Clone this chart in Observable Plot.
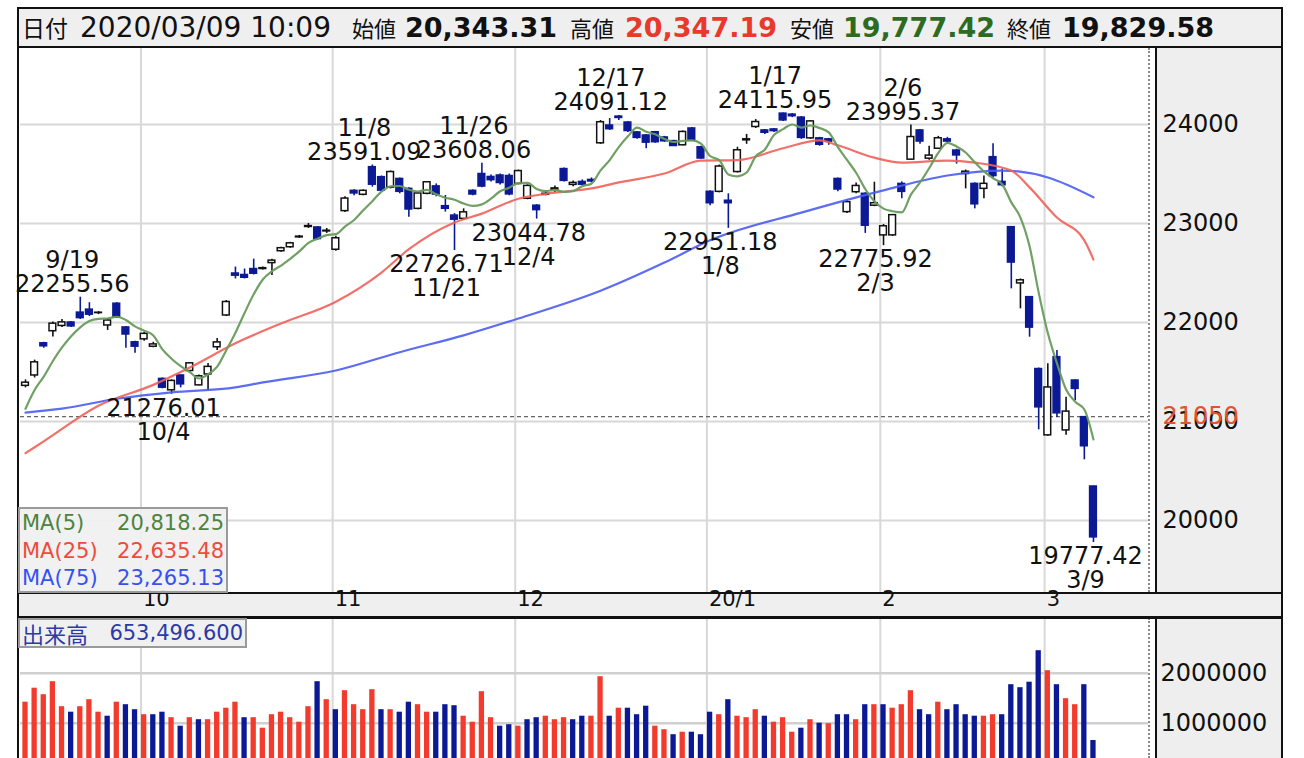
<!DOCTYPE html>
<html><head><meta charset="utf-8">
<script src="https://cdn.jsdelivr.net/npm/d3@7"></script>
<script src="https://cdn.jsdelivr.net/npm/@observablehq/plot@0.6"></script>
<style>
body{margin:0;background:#fff;font-family:"DejaVu Sans",sans-serif;}
#wrap{position:relative;width:1304px;height:758px;overflow:hidden;}
.abs{position:absolute;}
.cjk{font-family:"Noto Sans CJK JP",sans-serif;}
.hd{position:absolute;top:8px;height:39px;line-height:39px;white-space:nowrap;color:#111;}
.num{font-family:"DejaVu Sans",sans-serif;font-size:27px;font-weight:bold;}
.row{position:absolute;left:2px;right:2px;height:22px;line-height:22px;font-size:21px;}
.row .l{position:absolute;left:0;}
.row .r{position:absolute;right:0;}
</style></head>
<body><div id="wrap">
<div class="abs" style="left:18px;top:8px;width:1264px;height:39px;background:#efefef"></div>
<div class="abs" style="left:1157px;top:48px;width:124px;height:544px;background:#eeeeee"></div>
<div class="abs" style="left:19px;top:592px;width:1262px;height:26px;background:#efefef"></div>
<div class="abs" style="left:1157px;top:618px;width:124px;height:140px;background:#eeeeee"></div>
<div id="price" class="abs" style="left:18px;top:48px"></div>
<div id="vol" class="abs" style="left:18px;top:618px"></div>
<div class="abs" style="left:1148px;top:48px;height:544px;border-left:2px dotted #888"></div>
<div class="abs" style="left:1148px;top:618px;height:140px;border-left:2px dotted #888"></div>
<div class="abs" style="left:1155px;top:47px;width:2px;height:545px;background:#111"></div>
<div class="abs" style="left:1155px;top:618px;width:2px;height:140px;background:#111"></div>
<div class="abs" style="left:18px;top:7px;width:1264px;height:2px;background:#111"></div>
<div class="abs" style="left:18px;top:46px;width:1264px;height:2px;background:#111"></div>
<div class="abs" style="left:18px;top:592px;width:1264px;height:1.5px;background:#111"></div>
<div class="abs" style="left:18px;top:616px;width:1264px;height:2.5px;background:#111"></div>
<div class="abs" style="left:17px;top:7px;width:2px;height:751px;background:#111"></div>
<div class="abs" style="left:1281px;top:7px;width:2px;height:751px;background:#111"></div>
<div id="header"></div>
<div id="legend" class="abs" style="left:18px;top:507px;width:206px;height:82px;border:2px solid #9a9a9a;background:rgba(240,240,240,0.92)"></div>
<div id="vlabel" class="abs" style="left:18px;top:618px;width:225px;height:26px;border:2px solid #9a9a9a;background:#f0f0f0;color:#2b3aa8;line-height:26px;white-space:nowrap"></div>
</div>
<script>
// ---------- data ----------
const headerTime = "2020/03/09 10:09";
const dates = ["9/10","9/11","9/12","9/13","9/17","9/18","9/19","9/20","9/24","9/25","9/26","9/27","9/30",
"10/1","10/2","10/3","10/4","10/7","10/8","10/9","10/10","10/11","10/15","10/16","10/17","10/18","10/21","10/23","10/24","10/25","10/28","10/29","10/30","10/31",
"11/1","11/5","11/6","11/7","11/8","11/11","11/12","11/13","11/14","11/15","11/18","11/19","11/20","11/21","11/22","11/25","11/26","11/27","11/28","11/29",
"12/2","12/3","12/4","12/5","12/6","12/9","12/10","12/11","12/12","12/13","12/16","12/17","12/18","12/19","12/20","12/23","12/24","12/25","12/26","12/27","12/30",
"1/6","1/7","1/8","1/9","1/10","1/14","1/15","1/16","1/17","1/20","1/21","1/22","1/23","1/24","1/27","1/28","1/29","1/30","1/31",
"2/3","2/4","2/5","2/6","2/7","2/10","2/12","2/13","2/14","2/17","2/18","2/19","2/20","2/21","2/25","2/26","2/27","2/28",
"3/2","3/3","3/4","3/5","3/6","3/9"];
const opens = [21360,21465,21790,21912,21965,22000,22100,22130,22095,21970,22190,21950,21800,
21830,21755,21430,21315,21465,21510,21365,21475,21750,22071,22495,22480,22540,22540,22600,22720,22760,22860,22965,22960,22920,
22735,23125,23330,23290,23569,23468,23361,23450,23350,23148,23300,23375,23175,23080,23047,23330,23500,23470,23485,23480,
23400,23250,23180,23290,23340,23550,23390,23420,23440,23810,23990,24080,24020,23920,23889,23922,23869,23832,23790,23960,23770,
23320,23320,23230,23520,23840,23975,23940,23950,24110,24100,24070,23860,23860,23850,23450,23115,23316,23300,23180,
22880,22880,23400,23645,23940,23655,23755,23850,23737,23500,23400,23350,23670,23420,22963,22395,22256,21530,
20860,21650,20910,21414,21044,20343.31];
const highs = [21420,21620,21800,22005,22030,22010,22255.56,22200,22110,22040,22200,21960,21810,
21900,21800,21440,21420,21470,21590,21470,21586,21838,22222,22560,22540,22640,22560,22640,22760,22810,22880,23000,22970,22950,
22870,23270,23340,23340,23591.09,23480,23530,23460,23360,23310,23420,23400,23283,23100,23148,23340,23608.06,23490,23500,23500,
23540,23390,23190,23330,23380,23560,23430,23440,23460,24040,24060,24091.12,24030,23930,23900,23930,23880,23840,23935,23970,23780,
23330,23590,23300,23770,23900,24050,23950,23960,24115.95,24110,24080,24040,23870,23860,23460,23240,23410,23310,23417,
22990,23090,23420,23995.37,23950,23780,23880,23870,23750,23540,23410,23480,23805,23550,22970,22440,22260,21540,
21583,21717,21246,21420,21050,20347.19];
const lows = [21340,21440,21740,21853,21950,21950,22030,22060,22080,21920,22040,21740,21690,
21810,21745,21330,21276.01,21340,21500,21360,21313,21717,22060,22440,22440,22480,22530,22475,22710,22750,22850,22950,22830,22900,
22720,23110,23280,23280,23367,23320,23350,23300,23064,23140,23290,23270,23115,22726.71,23030,23280,23360,23420,23390,23280,
23390,23240,23044.78,23280,23310,23420,23370,23380,23410,23800,23940,24040,23920,23850,23754,23810,23820,23780,23785,23830,23650,
23180,23310,22951.18,23510,23800,23960,23900,23920,24030,24070,23850,23850,23780,23790,23320,23100,23300,22900,23170,
22775.92,22870,23250,23640,23800,23640,23750,23810,23600,23350,23148,23250,23460,23370,22340,22138,21852,20916,
20850,21040,20860,21210,20613,19777.42];
const closes = [21392.10,21597.76,21759.61,21988.29,22001.32,21960.71,22044.45,22079.09,22098.84,22020.15,22048.24,21878.90,21755.84,
21885.24,21778.61,21341.74,21410.20,21375.25,21587.78,21456.38,21551.98,21798.87,22207.21,22472.92,22451.86,22492.68,22548.90,22625.38,22750.60,22799.81,22867.27,22974.13,22843.12,22927.04,
22850.77,23251.99,23303.82,23330.32,23391.87,23331.84,23520.01,23319.87,23141.55,23303.32,23416.76,23292.65,23148.57,23038.58,23112.88,23292.81,23373.32,23437.77,23409.14,23293.91,
23529.50,23379.81,23135.23,23300.09,23354.40,23430.70,23410.19,23391.86,23424.81,24023.10,23952.35,24066.12,23934.43,23864.85,23816.63,23821.11,23830.58,23782.87,23924.92,23837.72,23656.62,
23204.86,23575.72,23204.76,23739.87,23850.57,24025.17,23916.58,23933.13,24041.26,24083.51,23864.56,24031.35,23795.44,23827.18,23343.51,23215.71,23379.40,22977.75,23205.18,
22971.94,23084.59,23319.56,23873.59,23827.98,23685.98,23861.21,23827.73,23687.59,23523.24,23193.80,23400.70,23479.15,23386.74,22605.41,22426.19,21948.23,21142.96,
21344.08,21082.73,21100.06,21329.12,20749.75,19829.58];
const volumes = [1420000,1700000,1570000,1830000,1330000,1220000,1330000,1470000,1220000,1140000,1420000,1370000,1270000,
1170000,1170000,1220000,1110000,940000,1110000,1070000,1070000,1220000,1300000,1420000,1110000,1110000,900000,1170000,1220000,1110000,1020000,1330000,1830000,1470000,
1270000,1650000,1370000,1270000,1670000,1270000,1270000,1220000,1420000,1370000,1220000,1220000,1370000,1350000,1140000,1020000,1630000,1110000,940000,970000,
940000,1070000,1110000,1140000,1070000,1110000,1070000,1140000,1140000,1930000,1140000,1300000,1300000,1170000,1340000,940000,870000,770000,820000,820000,770000,
1220000,1170000,1470000,1140000,1110000,1270000,1140000,1020000,1110000,820000,900000,1070000,1000000,990000,1170000,1170000,1070000,1370000,1370000,
1370000,1300000,1370000,1650000,1270000,1170000,1420000,1270000,1370000,1170000,1140000,1140000,1170000,1170000,1770000,1710000,1820000,2450000,
2050000,1770000,1490000,1370000,1770000,653496.6];
const ma5Lead = [21128.63,21318.76,21453.49,21611.15];
const ma25Dates = ["9/10","9/12","9/24","10/2","10/8","10/16","10/24","11/1","11/11","11/14","11/21","11/26","12/2","12/5","12/12","12/17","12/24","12/30","1/9","1/17","1/23","1/27","1/31","2/5","2/13","2/18","2/25","2/27","3/3","3/6","3/9"];
const ma25Values = [20680,20800,21160,21370,21545,21790,21990,22210,22505,22740,23010,23100,23250,23300,23355,23415,23505,23635,23640,23760,23840,23790,23665,23615,23635,23615,23535,23365,23060,22830,22635.48];
const ma75Dates = ["9/10","9/17","9/26","10/4","10/16","10/21","11/1","11/13","11/22","12/2","12/13","12/24","1/6","1/21","2/3","2/13","2/21","3/2","3/9"];
const ma75Values = [21090,21130,21230,21295,21345,21395,21515,21700,21870,22040,22320,22605,22830,23110,23335,23485,23535,23465,23265.13];
const priceTicks = [20000,21000,22000,23000,24000];
const priceLine = 21050;
const volumeTicks = [1000000,2000000];
const monthStartDates = ["10/1","11/1","12/2","1/6","2/3","3/2"];
const monthLabels = ["10","11","12","20/1","2","3"];
const highMarkDates = ["9/19","11/8","11/26","12/17","1/17","2/6"];
const lowMarkDates = ["10/4","11/21","12/4","1/8","2/3","3/9"];

// ---------- derived ----------
const NAVY = "#0b1a94", RED = "#f23b2c";
const idx = new Map(dates.map((d,i)=>[d,i]));
const candles = dates.map((d,i)=>({i, o:opens[i], h:highs[i], l:lows[i], c:closes[i], up: closes[i] >= opens[i]}));
const ma5 = closes.map((c,i)=>({i, v: i < 4 ? ma5Lead[i] : d3.mean(closes.slice(i-4,i+1))}));
const ma25 = ma25Dates.map((d,k)=>({i: idx.get(d), v: ma25Values[k]}));
const ma75 = ma75Dates.map((d,k)=>({i: idx.get(d), v: ma75Values[k]}));
const months = monthStartDates.map((d,k)=>({pos: idx.get(d) - 0.35, label: monthLabels[k]}));
const highMarks = highMarkDates.map(d=>({i: idx.get(d), d, v: highs[idx.get(d)]}));
const lowMarks = lowMarkDates.map(d=>({i: idx.get(d), d, v: lows[idx.get(d)]}));
const vols = volumes.map((v,i)=>({i, v, up: i === 0 ? closes[0] >= opens[0] : closes[i] >= closes[i-1]}));
const f2 = d3.format(",.2f");
const plain = d3.format("d");
const X_DOMAIN = [-0.548, 123.03];
const textFont = {fontFamily: "DejaVu Sans", fontSize: 24, fill: "#111", lineHeight: 1};

const price = Plot.plot({
  width: 1264, height: 570, marginTop: 0, marginBottom: 26, marginLeft: 2, marginRight: 134,
  x: {domain: X_DOMAIN, axis: null},
  y: {domain: [19272.7, 24767.7]},
  color: {type: "identity"},
  style: {background: "transparent", fontFamily: "DejaVu Sans", fontSize: "24px", overflow: "visible", maxWidth: "none"},
  marks: [
    Plot.ruleX(months, {x: "pos", stroke: "#d8d8d8", strokeWidth: 2}),
    Plot.ruleY(priceTicks, {stroke: "#d8d8d8", strokeWidth: 2}),
    Plot.ruleY([priceLine], {stroke: "#666", strokeWidth: 1.2, strokeDasharray: "4,3"}),
    Plot.ruleX(candles, {x: "i", y1: "l", y2: "h", stroke: d => d.up ? "#111" : NAVY, strokeWidth: 1.6}),
    Plot.rect(candles, {x1: d => d.i - 0.37, x2: d => d.i + 0.37, y1: "o", y2: "c",
      fill: d => d.up ? "#fff" : NAVY, stroke: d => d.up ? "#111" : NAVY, strokeWidth: 1.5}),
    Plot.line(ma75, {x: "i", y: "v", stroke: "#4a5cf2", strokeWidth: 2.2, curve: "monotone-x", strokeOpacity: 0.9}),
    Plot.line(ma25, {x: "i", y: "v", stroke: "#f0625a", strokeWidth: 2.2, curve: "monotone-x", strokeOpacity: 0.9}),
    Plot.line(ma5, {x: "i", y: "v", stroke: "#689b5c", strokeWidth: 2.2, curve: "monotone-x", strokeOpacity: 0.95}),
    Plot.text(highMarks, {x: "i", y: "v", text: d => `${d.d}\n${d.v.toFixed(2)}`, dx: -8, dy: -25, lineAnchor: "middle", ...textFont}),
    Plot.text(lowMarks, {x: "i", y: "v", text: d => `${d.v.toFixed(2)}\n${d.d}`, dx: -8, dy: 26, lineAnchor: "middle", ...textFont}),
    Plot.axisY(priceTicks, {anchor: "right", tickSize: 0, tickPadding: 14, textAnchor: "start", fontSize: 24, fill: "#111", label: null, tickFormat: plain}),
    Plot.axisY([priceLine], {anchor: "right", tickSize: 0, tickPadding: 14, textAnchor: "start", fontSize: 24, fill: "#e4532f", label: null, tickFormat: plain}),
    Plot.text(months, {x: "pos", text: "label", frameAnchor: "bottom", dy: 13, dx: 2, textAnchor: "start", fontSize: 21, fill: "#111"})
  ]
});
document.getElementById("price").appendChild(price);

const vol = Plot.plot({
  width: 1264, height: 140, marginTop: 0, marginBottom: 0, marginLeft: 2, marginRight: 134,
  x: {domain: X_DOMAIN, axis: null},
  y: {domain: [294000, 3094000]},
  color: {type: "identity"},
  style: {background: "transparent", fontFamily: "DejaVu Sans", fontSize: "24px", overflow: "hidden", maxWidth: "none"},
  marks: [
    Plot.ruleX(months, {x: "pos", stroke: "#d8d8d8", strokeWidth: 2}),
    Plot.ruleY(volumeTicks, {stroke: "#d0d0d0", strokeWidth: 2.5}),
    Plot.rect(vols, {x1: d => d.i - 0.29, x2: d => d.i + 0.29, y1: 0, y2: "v", fill: d => d.up ? RED : NAVY}),
    Plot.axisY(volumeTicks, {anchor: "right", tickSize: 0, tickPadding: 12, textAnchor: "start", fontSize: 24, fill: "#111", label: null, tickFormat: plain})
  ]
});
document.getElementById("vol").appendChild(vol);

// header
const last = candles[candles.length - 1];
const hdrItems = [
  {t: "日付", x: 22, cls: "cjk", fs: 23},
  {t: headerTime, x: 80, fs: 28},
  {t: "始値", x: 352, cls: "cjk", fs: 22},
  {t: f2(last.o), x: 405, cls: "num"},
  {t: "高値", x: 570, cls: "cjk", fs: 22},
  {t: f2(last.h), x: 625, cls: "num", color: "#e8392b"},
  {t: "安値", x: 790, cls: "cjk", fs: 22},
  {t: f2(last.l), x: 843, cls: "num", color: "#2d6b1f"},
  {t: "終値", x: 1007, cls: "cjk", fs: 22},
  {t: f2(last.c), x: 1062, cls: "num"}
];
const hdr = document.getElementById("header");
for (const it of hdrItems) {
  const s = document.createElement("div");
  s.className = "hd " + (it.cls || "");
  s.style.left = it.x + "px";
  if (it.fs) s.style.fontSize = it.fs + "px";
  if (it.color) s.style.color = it.color;
  s.textContent = it.t;
  hdr.appendChild(s);
}
// MA legend
const legendRows = [
  {name: "MA(5)", v: ma5[ma5.length - 1].v, color: "#4d8340"},
  {name: "MA(25)", v: ma25Values[ma25Values.length - 1], color: "#ef4a3c"},
  {name: "MA(75)", v: ma75Values[ma75Values.length - 1], color: "#3552f0"}
];
const lg = document.getElementById("legend");
legendRows.forEach((r, k) => {
  const row = document.createElement("div");
  row.className = "row";
  row.style.top = (3 + k * 27.5) + "px";
  row.style.color = r.color;
  row.innerHTML = `<span class="l">${r.name}</span><span class="r">${f2(r.v)}</span>`;
  lg.appendChild(row);
});
// volume label
document.getElementById("vlabel").innerHTML =
  `<span class="cjk" style="font-size:22px;margin-left:2px">出来高</span><span style="font-size:21px;position:absolute;right:2px">${d3.format(",.3f")(volumes[volumes.length-1])}</span>`;
</script>
</body></html>
